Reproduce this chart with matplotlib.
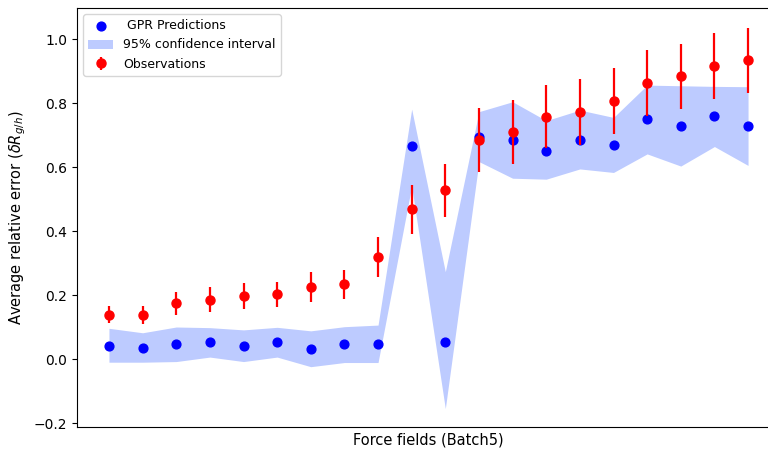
import numpy as np
import matplotlib
matplotlib.use("Agg")
import matplotlib.pyplot as plt

# GPR predictions and 95% band
gpr_mean = [0.042, 0.035, 0.047, 0.052, 0.041, 0.053, 0.032, 0.046, 0.048, 0.666,
            0.053, 0.695, 0.683, 0.651, 0.686, 0.668, 0.750, 0.728, 0.758, 0.728]
ci_upper = [0.096, 0.082, 0.100, 0.098, 0.091, 0.099, 0.088, 0.101, 0.106, 0.781,
            0.273, 0.773, 0.804, 0.745, 0.778, 0.755, 0.856, 0.854, 0.852, 0.851]
ci_lower = [-0.010, -0.010, -0.008, 0.006, -0.008, 0.006, -0.024, -0.011, -0.011, 0.540,
            -0.155, 0.617, 0.565, 0.562, 0.594, 0.583, 0.641, 0.603, 0.664, 0.605]

# observations with error bars
obs_mean = [0.138, 0.138, 0.174, 0.185, 0.196, 0.202, 0.226, 0.234, 0.319, 0.468,
            0.527, 0.685, 0.708, 0.757, 0.773, 0.806, 0.862, 0.884, 0.916, 0.934]
obs_err = [0.027, 0.029, 0.036, 0.039, 0.040, 0.040, 0.047, 0.045, 0.063, 0.076,
           0.084, 0.101, 0.100, 0.099, 0.103, 0.104, 0.103, 0.102, 0.103, 0.102]

x = np.arange(len(gpr_mean))

fig = plt.figure(figsize=(7.68, 4.49), dpi=100)
ax = fig.add_axes([77/768, 22/449, (780-77)/768, (427-8)/449])

ax.scatter(x, gpr_mean, color='blue', s=40, label=' GPR Predictions', zorder=3)
ax.fill_between(x, ci_lower, ci_upper, color='#bdcbff', lw=0,
                label='95% confidence interval', zorder=1)
ax.errorbar(x, obs_mean, yerr=obs_err, fmt='o', color='red', ms=6.5, elinewidth=1.6,
            label='Observations', zorder=4)

ax.set_xticks([])
ax.set_ylim(-0.2125, 1.097)
ax.set_yticks([-0.2, 0.0, 0.2, 0.4, 0.6, 0.8, 1.0])
ax.set_xlabel("Force fields (Batch5)", fontsize=10.5)
ax.set_ylabel(r"Average relative error ($\delta R_{g/h}$)", fontsize=10.5)
ax.legend(loc='upper left', fontsize=9)

fig.savefig("out.png", dpi=100)
